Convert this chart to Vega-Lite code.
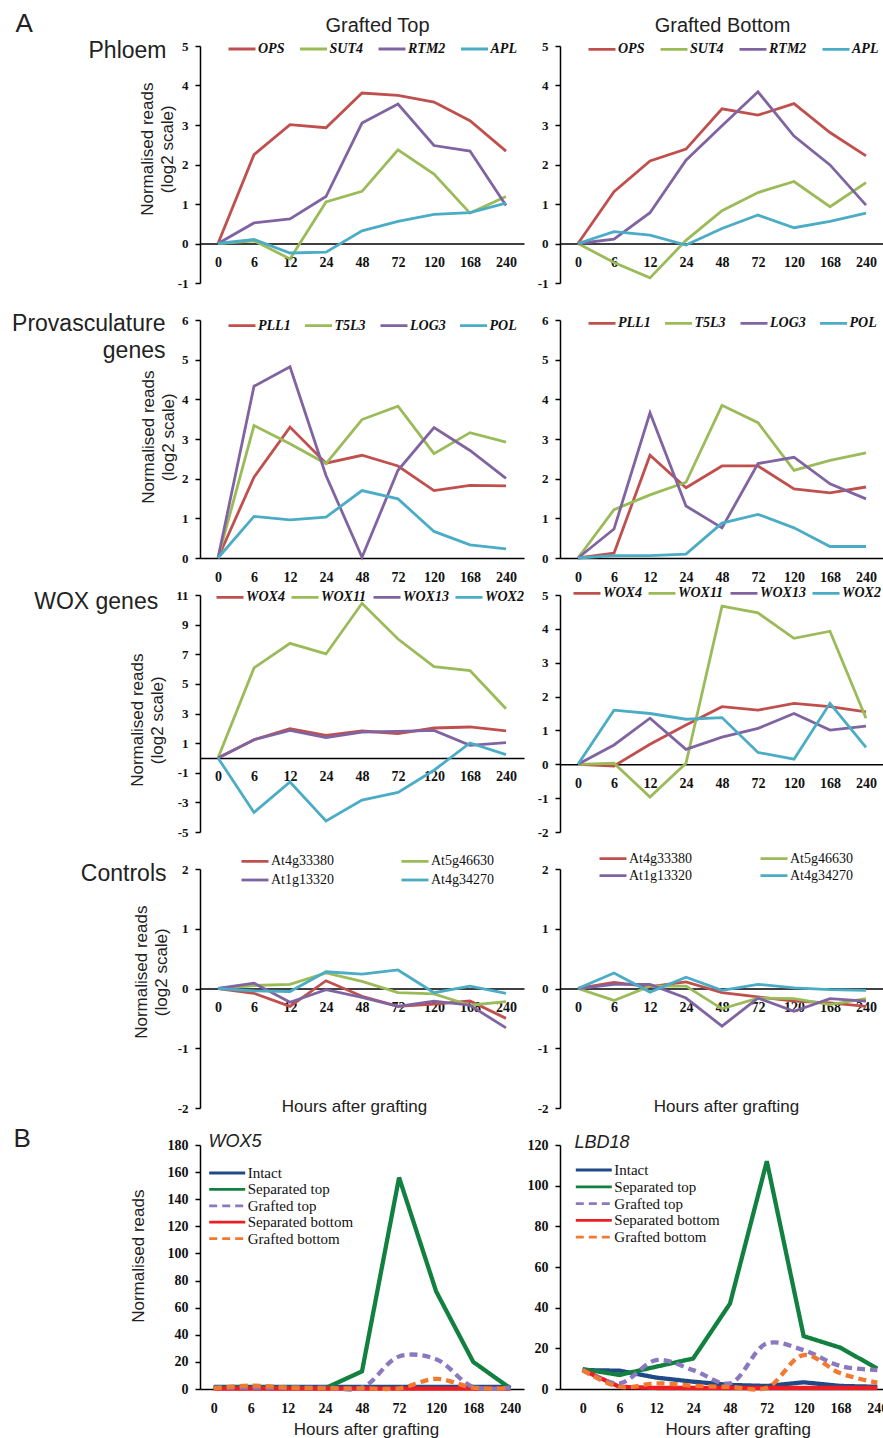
{
"$schema":"https://vega.github.io/schema/vega-lite/v6.json",
"background":"white",
"padding":{"left":11,"top":10,"right":0,"bottom":0},
"config":{
 "view":{"stroke":null},
 "axis":{"grid":false,"domainColor":"#000","domainWidth":1.5,"tickColor":"#000","tickWidth":1.5,"labelColor":"#111","labelFont":"Liberation Serif","labelFontWeight":"bold","titleFont":"Liberation Sans","titleFontWeight":"normal","titleColor":"#222","titleFontSize":17,"titleLineHeight":20,"titleAlign":"center","titleBaseline":"middle"},
 "axisX":{"ticks":false,"labelAngle":0,"labelFontSize":14,"labelPadding":12},
 "axisY":{"tickSize":5,"labelFontSize":13,"labelPadding":7,"labelExpr":"'' + datum.value"},
 "legend":{"padding":0,"labelColor":"#111","labelLimit":400,"symbolType":"stroke","labelOffset":1,"orient":"none"},
 "line":{"strokeWidth":2.8}
},
"datasets":{
"p1L":[
{"g":"OPS","h":0,"v":0},{"g":"OPS","h":6,"v":2.25},{"g":"OPS","h":12,"v":3.01},{"g":"OPS","h":24,"v":2.93},{"g":"OPS","h":48,"v":3.81},{"g":"OPS","h":72,"v":3.75},{"g":"OPS","h":120,"v":3.58},{"g":"OPS","h":168,"v":3.11},{"g":"OPS","h":240,"v":2.34},
{"g":"SUT4","h":0,"v":0},{"g":"SUT4","h":6,"v":0.07},{"g":"SUT4","h":12,"v":-0.39},{"g":"SUT4","h":24,"v":1.05},{"g":"SUT4","h":48,"v":1.32},{"g":"SUT4","h":72,"v":2.37},{"g":"SUT4","h":120,"v":1.76},{"g":"SUT4","h":168,"v":0.77},{"g":"SUT4","h":240,"v":1.19},
{"g":"RTM2","h":0,"v":0},{"g":"RTM2","h":6,"v":0.52},{"g":"RTM2","h":12,"v":0.62},{"g":"RTM2","h":24,"v":1.19},{"g":"RTM2","h":48,"v":3.05},{"g":"RTM2","h":72,"v":3.53},{"g":"RTM2","h":120,"v":2.48},{"g":"RTM2","h":168,"v":2.34},{"g":"RTM2","h":240,"v":0.96},
{"g":"APL","h":0,"v":0},{"g":"APL","h":6,"v":0.10},{"g":"APL","h":12,"v":-0.24},{"g":"APL","h":24,"v":-0.22},{"g":"APL","h":48,"v":0.32},{"g":"APL","h":72,"v":0.56},{"g":"APL","h":120,"v":0.74},{"g":"APL","h":168,"v":0.78},{"g":"APL","h":240,"v":1.02}],
"p1R":[
{"g":"OPS","h":0,"v":0},{"g":"OPS","h":6,"v":1.31},{"g":"OPS","h":12,"v":2.09},{"g":"OPS","h":24,"v":2.39},{"g":"OPS","h":48,"v":3.41},{"g":"OPS","h":72,"v":3.25},{"g":"OPS","h":120,"v":3.54},{"g":"OPS","h":168,"v":2.81},{"g":"OPS","h":240,"v":2.22},
{"g":"SUT4","h":0,"v":0},{"g":"SUT4","h":6,"v":-0.48},{"g":"SUT4","h":12,"v":-0.87},{"g":"SUT4","h":24,"v":0.08},{"g":"SUT4","h":48,"v":0.83},{"g":"SUT4","h":72,"v":1.29},{"g":"SUT4","h":120,"v":1.57},{"g":"SUT4","h":168,"v":0.93},{"g":"SUT4","h":240,"v":1.54},
{"g":"RTM2","h":0,"v":0},{"g":"RTM2","h":6,"v":0.11},{"g":"RTM2","h":12,"v":0.78},{"g":"RTM2","h":24,"v":2.11},{"g":"RTM2","h":48,"v":2.98},{"g":"RTM2","h":72,"v":3.84},{"g":"RTM2","h":120,"v":2.72},{"g":"RTM2","h":168,"v":1.99},{"g":"RTM2","h":240,"v":0.97},
{"g":"APL","h":0,"v":0},{"g":"APL","h":6,"v":0.30},{"g":"APL","h":12,"v":0.21},{"g":"APL","h":24,"v":-0.04},{"g":"APL","h":48,"v":0.38},{"g":"APL","h":72,"v":0.72},{"g":"APL","h":120,"v":0.40},{"g":"APL","h":168,"v":0.56},{"g":"APL","h":240,"v":0.77}],
"p2L":[
{"g":"PLL1","h":0,"v":0},{"g":"PLL1","h":6,"v":2.04},{"g":"PLL1","h":12,"v":3.30},{"g":"PLL1","h":24,"v":2.39},{"g":"PLL1","h":48,"v":2.59},{"g":"PLL1","h":72,"v":2.32},{"g":"PLL1","h":120,"v":1.70},{"g":"PLL1","h":168,"v":1.83},{"g":"PLL1","h":240,"v":1.82},
{"g":"T5L3","h":0,"v":0},{"g":"T5L3","h":6,"v":3.34},{"g":"T5L3","h":12,"v":2.88},{"g":"T5L3","h":24,"v":2.38},{"g":"T5L3","h":48,"v":3.49},{"g":"T5L3","h":72,"v":3.83},{"g":"T5L3","h":120,"v":2.63},{"g":"T5L3","h":168,"v":3.16},{"g":"T5L3","h":240,"v":2.92},
{"g":"LOG3","h":0,"v":0},{"g":"LOG3","h":6,"v":4.33},{"g":"LOG3","h":12,"v":4.82},{"g":"LOG3","h":24,"v":2.08},{"g":"LOG3","h":48,"v":0.02},{"g":"LOG3","h":72,"v":2.21},{"g":"LOG3","h":120,"v":3.29},{"g":"LOG3","h":168,"v":2.71},{"g":"LOG3","h":240,"v":2.01},
{"g":"POL","h":0,"v":0},{"g":"POL","h":6,"v":1.05},{"g":"POL","h":12,"v":0.96},{"g":"POL","h":24,"v":1.03},{"g":"POL","h":48,"v":1.70},{"g":"POL","h":72,"v":1.49},{"g":"POL","h":120,"v":0.67},{"g":"POL","h":168,"v":0.33},{"g":"POL","h":240,"v":0.23}],
"p2R":[
{"g":"PLL1","h":0,"v":0},{"g":"PLL1","h":6,"v":0.12},{"g":"PLL1","h":12,"v":2.59},{"g":"PLL1","h":24,"v":1.77},{"g":"PLL1","h":48,"v":2.32},{"g":"PLL1","h":72,"v":2.32},{"g":"PLL1","h":120,"v":1.74},{"g":"PLL1","h":168,"v":1.64},{"g":"PLL1","h":240,"v":1.79},
{"g":"T5L3","h":0,"v":0},{"g":"T5L3","h":6,"v":1.22},{"g":"T5L3","h":12,"v":1.59},{"g":"T5L3","h":24,"v":1.91},{"g":"T5L3","h":48,"v":3.85},{"g":"T5L3","h":72,"v":3.41},{"g":"T5L3","h":120,"v":2.21},{"g":"T5L3","h":168,"v":2.46},{"g":"T5L3","h":240,"v":2.65},
{"g":"LOG3","h":0,"v":0},{"g":"LOG3","h":6,"v":0.73},{"g":"LOG3","h":12,"v":3.66},{"g":"LOG3","h":24,"v":1.31},{"g":"LOG3","h":48,"v":0.76},{"g":"LOG3","h":72,"v":2.38},{"g":"LOG3","h":120,"v":2.54},{"g":"LOG3","h":168,"v":1.87},{"g":"LOG3","h":240,"v":1.49},
{"g":"POL","h":0,"v":0},{"g":"POL","h":6,"v":0.06},{"g":"POL","h":12,"v":0.06},{"g":"POL","h":24,"v":0.10},{"g":"POL","h":48,"v":0.88},{"g":"POL","h":72,"v":1.10},{"g":"POL","h":120,"v":0.76},{"g":"POL","h":168,"v":0.29},{"g":"POL","h":240,"v":0.29}],
"p3L":[
{"g":"WOX4","h":0,"v":0},{"g":"WOX4","h":6,"v":1.23},{"g":"WOX4","h":12,"v":1.97},{"g":"WOX4","h":24,"v":1.53},{"g":"WOX4","h":48,"v":1.82},{"g":"WOX4","h":72,"v":1.64},{"g":"WOX4","h":120,"v":2.02},{"g":"WOX4","h":168,"v":2.09},{"g":"WOX4","h":240,"v":1.82},
{"g":"WOX11","h":0,"v":0},{"g":"WOX11","h":6,"v":6.08},{"g":"WOX11","h":12,"v":7.74},{"g":"WOX11","h":24,"v":7.02},{"g":"WOX11","h":48,"v":10.44},{"g":"WOX11","h":72,"v":8.03},{"g":"WOX11","h":120,"v":6.17},{"g":"WOX11","h":168,"v":5.90},{"g":"WOX11","h":240,"v":3.32},
{"g":"WOX13","h":0,"v":0},{"g":"WOX13","h":6,"v":1.23},{"g":"WOX13","h":12,"v":1.86},{"g":"WOX13","h":24,"v":1.37},{"g":"WOX13","h":48,"v":1.75},{"g":"WOX13","h":72,"v":1.80},{"g":"WOX13","h":120,"v":1.86},{"g":"WOX13","h":168,"v":0.85},{"g":"WOX13","h":240,"v":1.03},
{"g":"WOX2","h":0,"v":0},{"g":"WOX2","h":6,"v":-3.68},{"g":"WOX2","h":12,"v":-1.62},{"g":"WOX2","h":24,"v":-4.26},{"g":"WOX2","h":48,"v":-2.85},{"g":"WOX2","h":72,"v":-2.33},{"g":"WOX2","h":120,"v":-0.83},{"g":"WOX2","h":168,"v":1.01},{"g":"WOX2","h":240,"v":0.22}],
"p3R":[
{"g":"WOX4","h":0,"v":0},{"g":"WOX4","h":6,"v":-0.05},{"g":"WOX4","h":12,"v":0.59},{"g":"WOX4","h":24,"v":1.16},{"g":"WOX4","h":48,"v":1.70},{"g":"WOX4","h":72,"v":1.60},{"g":"WOX4","h":120,"v":1.80},{"g":"WOX4","h":168,"v":1.70},{"g":"WOX4","h":240,"v":1.55},
{"g":"WOX11","h":0,"v":0},{"g":"WOX11","h":6,"v":0.03},{"g":"WOX11","h":12,"v":-0.97},{"g":"WOX11","h":24,"v":0.03},{"g":"WOX11","h":48,"v":4.67},{"g":"WOX11","h":72,"v":4.47},{"g":"WOX11","h":120,"v":3.72},{"g":"WOX11","h":168,"v":3.93},{"g":"WOX11","h":240,"v":1.36},
{"g":"WOX13","h":0,"v":0},{"g":"WOX13","h":6,"v":0.57},{"g":"WOX13","h":12,"v":1.36},{"g":"WOX13","h":24,"v":0.44},{"g":"WOX13","h":48,"v":0.80},{"g":"WOX13","h":72,"v":1.06},{"g":"WOX13","h":120,"v":1.50},{"g":"WOX13","h":168,"v":1.01},{"g":"WOX13","h":240,"v":1.13},
{"g":"WOX2","h":0,"v":0},{"g":"WOX2","h":6,"v":1.60},{"g":"WOX2","h":12,"v":1.50},{"g":"WOX2","h":24,"v":1.33},{"g":"WOX2","h":48,"v":1.38},{"g":"WOX2","h":72,"v":0.35},{"g":"WOX2","h":120,"v":0.15},{"g":"WOX2","h":168,"v":1.80},{"g":"WOX2","h":240,"v":0.50}],
"p4L":[
{"g":"At4g33380","h":0,"v":0},{"g":"At4g33380","h":6,"v":-0.08},{"g":"At4g33380","h":12,"v":-0.30},{"g":"At4g33380","h":24,"v":0.13},{"g":"At4g33380","h":48,"v":-0.13},{"g":"At4g33380","h":72,"v":-0.30},{"g":"At4g33380","h":120,"v":-0.26},{"g":"At4g33380","h":168,"v":-0.21},{"g":"At4g33380","h":240,"v":-0.50},
{"g":"At5g46630","h":0,"v":0},{"g":"At5g46630","h":6,"v":0.05},{"g":"At5g46630","h":12,"v":0.07},{"g":"At5g46630","h":24,"v":0.26},{"g":"At5g46630","h":48,"v":0.12},{"g":"At5g46630","h":72,"v":-0.07},{"g":"At5g46630","h":120,"v":-0.09},{"g":"At5g46630","h":168,"v":-0.28},{"g":"At5g46630","h":240,"v":-0.22},
{"g":"At1g13320","h":0,"v":0},{"g":"At1g13320","h":6,"v":0.09},{"g":"At1g13320","h":12,"v":-0.23},{"g":"At1g13320","h":24,"v":-0.02},{"g":"At1g13320","h":48,"v":-0.15},{"g":"At1g13320","h":72,"v":-0.30},{"g":"At1g13320","h":120,"v":-0.21},{"g":"At1g13320","h":168,"v":-0.28},{"g":"At1g13320","h":240,"v":-0.66},
{"g":"At4g34270","h":0,"v":0},{"g":"At4g34270","h":6,"v":-0.04},{"g":"At4g34270","h":12,"v":-0.05},{"g":"At4g34270","h":24,"v":0.28},{"g":"At4g34270","h":48,"v":0.24},{"g":"At4g34270","h":72,"v":0.31},{"g":"At4g34270","h":120,"v":-0.07},{"g":"At4g34270","h":168,"v":0.04},{"g":"At4g34270","h":240,"v":-0.08}],
"p4R":[
{"g":"At4g33380","h":0,"v":0},{"g":"At4g33380","h":6,"v":0.10},{"g":"At4g33380","h":12,"v":0.03},{"g":"At4g33380","h":24,"v":0.11},{"g":"At4g33380","h":48,"v":-0.07},{"g":"At4g33380","h":72,"v":-0.14},{"g":"At4g33380","h":120,"v":-0.21},{"g":"At4g33380","h":168,"v":-0.24},{"g":"At4g33380","h":240,"v":-0.30},
{"g":"At5g46630","h":0,"v":0},{"g":"At5g46630","h":6,"v":-0.20},{"g":"At5g46630","h":12,"v":0.04},{"g":"At5g46630","h":24,"v":0.04},{"g":"At5g46630","h":48,"v":-0.34},{"g":"At5g46630","h":72,"v":-0.16},{"g":"At5g46630","h":120,"v":-0.17},{"g":"At5g46630","h":168,"v":-0.27},{"g":"At5g46630","h":240,"v":-0.17},
{"g":"At1g13320","h":0,"v":0},{"g":"At1g13320","h":6,"v":0.07},{"g":"At1g13320","h":12,"v":0.07},{"g":"At1g13320","h":24,"v":-0.16},{"g":"At1g13320","h":48,"v":-0.63},{"g":"At1g13320","h":72,"v":-0.16},{"g":"At1g13320","h":120,"v":-0.38},{"g":"At1g13320","h":168,"v":-0.17},{"g":"At1g13320","h":240,"v":-0.21},
{"g":"At4g34270","h":0,"v":0},{"g":"At4g34270","h":6,"v":0.26},{"g":"At4g34270","h":12,"v":-0.06},{"g":"At4g34270","h":24,"v":0.19},{"g":"At4g34270","h":48,"v":-0.03},{"g":"At4g34270","h":72,"v":0.07},{"g":"At4g34270","h":120,"v":0.01},{"g":"At4g34270","h":168,"v":-0.02},{"g":"At4g34270","h":240,"v":-0.03}],
"pBL":[
{"g":"Intact","h":0,"v":1.5},{"g":"Intact","h":6,"v":1.5},{"g":"Intact","h":12,"v":1.5},{"g":"Intact","h":24,"v":1.5},{"g":"Intact","h":48,"v":1.5},{"g":"Intact","h":72,"v":1.5},{"g":"Intact","h":120,"v":1.5},{"g":"Intact","h":168,"v":1.5},{"g":"Intact","h":240,"v":1.5},
{"g":"Separated top","h":0,"v":1},{"g":"Separated top","h":6,"v":1},{"g":"Separated top","h":12,"v":1},{"g":"Separated top","h":24,"v":0.5},{"g":"Separated top","h":48,"v":13},{"g":"Separated top","h":72,"v":156},{"g":"Separated top","h":120,"v":72},{"g":"Separated top","h":168,"v":20},{"g":"Separated top","h":240,"v":0.5},
{"g":"Grafted top","h":0,"v":1},{"g":"Grafted top","h":6,"v":1},{"g":"Grafted top","h":12,"v":1},{"g":"Grafted top","h":24,"v":1},{"g":"Grafted top","h":48,"v":1},{"g":"Grafted top","h":72,"v":24},{"g":"Grafted top","h":120,"v":22},{"g":"Grafted top","h":168,"v":1.5},{"g":"Grafted top","h":240,"v":1},
{"g":"Separated bottom","h":0,"v":0.3},{"g":"Separated bottom","h":6,"v":0.3},{"g":"Separated bottom","h":12,"v":0.3},{"g":"Separated bottom","h":24,"v":0.3},{"g":"Separated bottom","h":48,"v":0.3},{"g":"Separated bottom","h":72,"v":0.3},{"g":"Separated bottom","h":120,"v":0.3},{"g":"Separated bottom","h":168,"v":0.3},{"g":"Separated bottom","h":240,"v":0.3},
{"g":"Grafted bottom","h":0,"v":0.5},{"g":"Grafted bottom","h":6,"v":2.5},{"g":"Grafted bottom","h":12,"v":1},{"g":"Grafted bottom","h":24,"v":0.5},{"g":"Grafted bottom","h":48,"v":0.5},{"g":"Grafted bottom","h":72,"v":0.5},{"g":"Grafted bottom","h":120,"v":7.5},{"g":"Grafted bottom","h":168,"v":1},{"g":"Grafted bottom","h":240,"v":0.5}],
"pBR":[
{"g":"Intact","h":0,"v":9.3},{"g":"Intact","h":6,"v":9.0},{"g":"Intact","h":12,"v":5.6},{"g":"Intact","h":24,"v":3.6},{"g":"Intact","h":48,"v":2.0},{"g":"Intact","h":72,"v":1.5},{"g":"Intact","h":120,"v":3.3},{"g":"Intact","h":168,"v":1.5},{"g":"Intact","h":240,"v":1.1},
{"g":"Separated top","h":0,"v":9.8},{"g":"Separated top","h":6,"v":6.9},{"g":"Separated top","h":12,"v":11},{"g":"Separated top","h":24,"v":15},{"g":"Separated top","h":48,"v":42},{"g":"Separated top","h":72,"v":112},{"g":"Separated top","h":120,"v":26},{"g":"Separated top","h":168,"v":20.3},{"g":"Separated top","h":240,"v":10},
{"g":"Grafted top","h":0,"v":9.3},{"g":"Grafted top","h":6,"v":2.8},{"g":"Grafted top","h":12,"v":14.2},{"g":"Grafted top","h":24,"v":9.3},{"g":"Grafted top","h":48,"v":2.8},{"g":"Grafted top","h":72,"v":22.4},{"g":"Grafted top","h":120,"v":19.1},{"g":"Grafted top","h":168,"v":11.3},{"g":"Grafted top","h":240,"v":9.3},
{"g":"Separated bottom","h":0,"v":9.3},{"g":"Separated bottom","h":6,"v":1.1},{"g":"Separated bottom","h":12,"v":0.5},{"g":"Separated bottom","h":24,"v":0.5},{"g":"Separated bottom","h":48,"v":0.5},{"g":"Separated bottom","h":72,"v":0.5},{"g":"Separated bottom","h":120,"v":0.5},{"g":"Separated bottom","h":168,"v":0.5},{"g":"Separated bottom","h":240,"v":0.5},
{"g":"Grafted bottom","h":0,"v":9.3},{"g":"Grafted bottom","h":6,"v":1},{"g":"Grafted bottom","h":12,"v":2.8},{"g":"Grafted bottom","h":24,"v":1.6},{"g":"Grafted bottom","h":48,"v":1},{"g":"Grafted bottom","h":72,"v":0.6},{"g":"Grafted bottom","h":120,"v":16.7},{"g":"Grafted bottom","h":168,"v":7.7},{"g":"Grafted bottom","h":240,"v":3.1}]
},
"columns":2,"spacing":{"row":37,"column":36},"bounds":"flush","align":"none",
"resolve":{"scale":{"color":"independent","strokeDash":"independent"}},
"concat":[
 {"width":324,"height":237,"data":{"name":"p1L"},
  "resolve":{"axis":{"x":"independent","y":"independent"}},
  "layer":[
   {"mark":{"type":"line"},
    "encoding":{
     "x":{"field":"h","type":"ordinal","sort":[0,6,12,24,48,72,120,168,240],"scale":{"padding":0.5},"axis":{"title":null,"offset":-39.5}},
     "y":{"field":"v","type":"quantitative","scale":{"domain":[-1,5],"nice":false,"zero":false},"axis":{"values":[-1,0,1,2,3,4,5],"title":["Normalised reads","(log2 scale)"],"titleX":-52.3,"titleY":102.7}},
     "color":{"field":"g","type":"nominal","scale":{"domain":["OPS","SUT4","RTM2","APL"],"range":["#C0504D","#9BBB59","#8064A2","#4BACC6"]},
      "legend":{"title":null,"orient":"none","legendX":27,"legendY":-5,"direction":"horizontal","columns":4,"columnPadding":13.5,"symbolSize":729,"symbolStrokeWidth":3,"clipHeight":16,"labelFont":"Liberation Serif","labelFontStyle":"italic","labelFontWeight":"bold","labelFontSize":14}}}},
   {"mark":{"type":"point","opacity":0},
    "encoding":{
     "x":{"field":"h","type":"ordinal","sort":[0,6,12,24,48,72,120,168,240],"axis":{"orient":"top","title":"Phloem","labels":false,"ticks":false,"domain":false,"titleX":-34,"titleY":4.7,"titleAlign":"right","titleBaseline":"middle","titleAngle":0,"titleFontSize":23}},
     "y":{"field":"v","type":"quantitative","axis":{"orient":"right","title":"Grafted Top","labels":false,"ticks":false,"domain":false,"titleX":-147,"titleY":-20.3,"titleAlign":"center","titleBaseline":"middle","titleAngle":0,"titleFontSize":20}}}}
  ]},
 {"width":324,"height":237,"data":{"name":"p1R"},
  "resolve":{"axis":{"x":"independent","y":"independent"}},
  "layer":[
   {"mark":{"type":"line"},
    "encoding":{
     "x":{"field":"h","type":"ordinal","sort":[0,6,12,24,48,72,120,168,240],"scale":{"padding":0.5},"axis":{"title":null,"offset":-39.5}},
     "y":{"field":"v","type":"quantitative","scale":{"domain":[-1,5],"nice":false,"zero":false},"axis":{"values":[-1,0,1,2,3,4,5],"title":null}},
     "color":{"field":"g","type":"nominal","scale":{"domain":["OPS","SUT4","RTM2","APL"],"range":["#C0504D","#9BBB59","#8064A2","#4BACC6"]},
      "legend":{"title":null,"orient":"none","legendX":27,"legendY":-4.6,"direction":"horizontal","columns":4,"columnPadding":14,"symbolSize":729,"symbolStrokeWidth":3,"clipHeight":16,"labelFont":"Liberation Serif","labelFontStyle":"italic","labelFontWeight":"bold","labelFontSize":14}}}},
   {"mark":{"type":"point","opacity":0},
    "encoding":{
     "x":{"field":"h","type":"ordinal","sort":[0,6,12,24,48,72,120,168,240],"axis":{"orient":"top","title":"Grafted Bottom","labels":false,"ticks":false,"domain":false,"titleX":162,"titleY":-20.3,"titleAlign":"center","titleBaseline":"middle","titleAngle":0,"titleFontSize":20}},
     "y":{"field":"v","type":"quantitative","axis":{"orient":"right","title":"A","labels":false,"ticks":false,"domain":false,"titleX":-869,"titleY":-22.3,"titleAlign":"left","titleBaseline":"middle","titleAngle":0,"titleFontSize":26}}}}
  ]},
 {"width":324,"height":238,"data":{"name":"p2L"},
  "resolve":{"axis":{"x":"independent"}},
  "layer":[
   {"mark":{"type":"line"},
    "encoding":{
     "x":{"field":"h","type":"ordinal","sort":[0,6,12,24,48,72,120,168,240],"scale":{"padding":0.5},"axis":{"title":null,"offset":0}},
     "y":{"field":"v","type":"quantitative","scale":{"domain":[0,6],"nice":false,"zero":false},"axis":{"values":[0,1,2,3,4,5,6],"title":["Normalised reads","(log2 scale)"],"titleX":-52,"titleY":116.7}},
     "color":{"field":"g","type":"nominal","scale":{"domain":["PLL1","T5L3","LOG3","POL"],"range":["#C0504D","#9BBB59","#8064A2","#4BACC6"]},
      "legend":{"title":null,"orient":"none","legendX":27,"legendY":-2.3,"direction":"horizontal","columns":4,"columnPadding":12.5,"symbolSize":729,"symbolStrokeWidth":3,"clipHeight":16,"labelFont":"Liberation Serif","labelFontStyle":"italic","labelFontWeight":"bold","labelFontSize":14}}}},
   {"mark":{"type":"point","opacity":0},
    "encoding":{"x":{"field":"h","type":"ordinal","sort":[0,6,12,24,48,72,120,168,240],"axis":{"orient":"top","title":["Provasculature","genes"],"labels":false,"ticks":false,"domain":false,"titleX":-35,"titleY":3.4,"titleAlign":"right","titleBaseline":"middle","titleAngle":0,"titleFontSize":23,"titleLineHeight":27}}}}
  ]},
 {"width":324,"height":238,"data":{"name":"p2R"},
  "mark":{"type":"line"},
  "encoding":{
   "x":{"field":"h","type":"ordinal","sort":[0,6,12,24,48,72,120,168,240],"scale":{"padding":0.5},"axis":{"title":null,"offset":0}},
   "y":{"field":"v","type":"quantitative","scale":{"domain":[0,6],"nice":false,"zero":false},"axis":{"values":[0,1,2,3,4,5,6],"title":null}},
   "color":{"field":"g","type":"nominal","scale":{"domain":["PLL1","T5L3","LOG3","POL"],"range":["#C0504D","#9BBB59","#8064A2","#4BACC6"]},
    "legend":{"title":null,"orient":"none","legendX":27,"legendY":-4.6,"direction":"horizontal","columns":4,"columnPadding":12.5,"symbolSize":729,"symbolStrokeWidth":3,"clipHeight":16,"labelFont":"Liberation Serif","labelFontStyle":"italic","labelFontWeight":"bold","labelFontSize":14}}}},
 {"width":324,"height":237,"data":{"name":"p3L"},
  "resolve":{"axis":{"x":"independent"}},
  "layer":[
   {"mark":{"type":"line"},
    "encoding":{
     "x":{"field":"h","type":"ordinal","sort":[0,6,12,24,48,72,120,168,240],"scale":{"padding":0.5},"axis":{"title":null,"offset":-74.06}},
     "y":{"field":"v","type":"quantitative","scale":{"domain":[-5,11],"nice":false,"zero":false},"axis":{"values":[-5,-3,-1,1,3,5,7,9,11],"title":["Normalised reads","(log2 scale)"],"titleX":-62.3,"titleY":124.7}},
     "color":{"field":"g","type":"nominal","scale":{"domain":["WOX4","WOX11","WOX13","WOX2"],"range":["#C0504D","#9BBB59","#8064A2","#4BACC6"]},
      "legend":{"title":null,"orient":"none","legendX":15,"legendY":-5.6,"direction":"horizontal","columns":4,"columnPadding":5,"symbolSize":729,"symbolStrokeWidth":3,"clipHeight":16,"labelFont":"Liberation Serif","labelFontStyle":"italic","labelFontWeight":"bold","labelFontSize":14}}}},
   {"mark":{"type":"point","opacity":0},
    "encoding":{"x":{"field":"h","type":"ordinal","sort":[0,6,12,24,48,72,120,168,240],"axis":{"orient":"top","title":"WOX genes","labels":false,"ticks":false,"domain":false,"titleX":-42.3,"titleY":6.4,"titleAlign":"right","titleBaseline":"middle","titleAngle":0,"titleFontSize":23}}}}
  ]},
 {"width":324,"height":237,"data":{"name":"p3R"},
  "mark":{"type":"line"},
  "encoding":{
   "x":{"field":"h","type":"ordinal","sort":[0,6,12,24,48,72,120,168,240],"scale":{"padding":0.5},"axis":{"title":null,"offset":-67.71}},
   "y":{"field":"v","type":"quantitative","scale":{"domain":[-2,5],"nice":false,"zero":false},"axis":{"values":[-2,-1,0,1,2,3,4,5],"title":null}},
   "color":{"field":"g","type":"nominal","scale":{"domain":["WOX4","WOX11","WOX13","WOX2"],"range":["#C0504D","#9BBB59","#8064A2","#4BACC6"]},
    "legend":{"title":null,"orient":"none","legendX":12,"legendY":-9.6,"direction":"horizontal","columns":4,"columnPadding":5,"symbolSize":729,"symbolStrokeWidth":3,"clipHeight":16,"labelFont":"Liberation Serif","labelFontStyle":"italic","labelFontWeight":"bold","labelFontSize":14}}}},
 {"width":324,"height":239,"data":{"name":"p4L"},
  "resolve":{"axis":{"x":"independent"}},
  "layer":[
   {"mark":{"type":"line"},
    "encoding":{
     "x":{"field":"h","type":"ordinal","sort":[0,6,12,24,48,72,120,168,240],"scale":{"padding":0.5},"axis":{"title":"Hours after grafting","offset":-119.5,"titleX":154,"titleY":117.9}},
     "y":{"field":"v","type":"quantitative","scale":{"domain":[-2,2],"nice":false,"zero":false},"axis":{"values":[-2,-1,0,1,2],"title":["Normalised reads","(log2 scale)"],"titleX":-59,"titleY":102.7}},
     "color":{"field":"g","type":"nominal","scale":{"domain":["At4g33380","At5g46630","At1g13320","At4g34270"],"range":["#C0504D","#9BBB59","#8064A2","#4BACC6"]},
      "legend":{"title":null,"orient":"none","legendX":40,"legendY":-15.6,"direction":"horizontal","columns":2,"columnPadding":66,"rowPadding":2.6,"symbolSize":729,"symbolStrokeWidth":3,"clipHeight":16,"labelFont":"Liberation Serif","labelFontWeight":"normal","labelFontSize":14}}}},
   {"mark":{"type":"point","opacity":0},
    "encoding":{"x":{"field":"h","type":"ordinal","sort":[0,6,12,24,48,72,120,168,240],"axis":{"orient":"top","title":"Controls","labels":false,"ticks":false,"domain":false,"titleX":-34,"titleY":4.4,"titleAlign":"right","titleBaseline":"middle","titleAngle":0,"titleFontSize":23}}}}
  ]},
 {"width":324,"height":239,"data":{"name":"p4R"},
  "mark":{"type":"line"},
  "encoding":{
   "x":{"field":"h","type":"ordinal","sort":[0,6,12,24,48,72,120,168,240],"scale":{"padding":0.5},"axis":{"title":"Hours after grafting","offset":-119.5,"titleX":166,"titleY":117.9}},
   "y":{"field":"v","type":"quantitative","scale":{"domain":[-2,2],"nice":false,"zero":false},"axis":{"values":[-2,-1,0,1,2],"title":null}},
   "color":{"field":"g","type":"nominal","scale":{"domain":["At4g33380","At5g46630","At1g13320","At4g34270"],"range":["#C0504D","#9BBB59","#8064A2","#4BACC6"]},
    "legend":{"title":null,"orient":"none","legendX":38,"legendY":-18.3,"direction":"horizontal","columns":2,"columnPadding":67,"rowPadding":1,"symbolSize":729,"symbolStrokeWidth":3,"clipHeight":16,"labelFont":"Liberation Serif","labelFontWeight":"normal","labelFontSize":14}}}},
 {"width":324,"height":244,"data":{"name":"pBL"},
  "resolve":{"axis":{"x":"independent","y":"independent"}},
  "layer":[
   {"transform":[{"filter":{"field":"g","oneOf":["Intact","Separated top","Separated bottom"]}}],
    "mark":{"type":"line","strokeWidth":4.3},
    "encoding":{
     "x":{"field":"h","type":"ordinal","sort":[0,6,12,24,48,72,120,168,240],"scale":{"padding":0.37},"axis":{"title":"Hours after grafting","offset":0,"titleX":166,"titleY":40.7}},
     "y":{"field":"v","type":"quantitative","scale":{"domain":[0,180],"nice":false,"zero":false},"axis":{"values":[0,20,40,60,80,100,120,140,160,180],"labelFontSize":14,"title":"Normalised reads","titleX":-62,"titleY":110.7}},
     "color":{"field":"g","type":"nominal","scale":{"domain":["Intact","Separated top","Grafted top","Separated bottom","Grafted bottom"],"range":["#1F4A86","#12803F","#8B79C0","#EE1D23","#F27A30"]},
      "legend":{"title":null,"orient":"none","legendX":7.7,"legendY":20.5,"direction":"vertical","symbolSize":1296,"symbolStrokeWidth":4.5,"clipHeight":15,"rowPadding":0.4,"labelFont":"Liberation Serif","labelFontWeight":"normal","labelFontSize":15}},
     "strokeDash":{"field":"g","type":"nominal","scale":{"domain":["Intact","Separated top","Grafted top","Separated bottom","Grafted bottom"],"range":[[1,0],[1,0],[8,5],[1,0],[8,5]]},
      "legend":{"title":null,"orient":"none","legendX":7.7,"legendY":20.5,"direction":"vertical","symbolSize":1296,"symbolStrokeWidth":4.5,"clipHeight":15,"rowPadding":0.4,"labelFont":"Liberation Serif","labelFontWeight":"normal","labelFontSize":15}}}},
   {"transform":[{"filter":{"field":"g","oneOf":["Grafted top","Grafted bottom"]}}],
    "mark":{"type":"line","strokeWidth":4.3,"interpolate":"catmull-rom"},
    "encoding":{
     "x":{"field":"h","type":"ordinal","sort":[0,6,12,24,48,72,120,168,240],"axis":null},
     "y":{"field":"v","type":"quantitative","axis":null},
     "color":{"field":"g","type":"nominal","scale":{"domain":["Intact","Separated top","Grafted top","Separated bottom","Grafted bottom"],"range":["#1F4A86","#12803F","#8B79C0","#EE1D23","#F27A30"]},
      "legend":{"title":null,"orient":"none","legendX":7.7,"legendY":20.5,"direction":"vertical","symbolSize":1296,"symbolStrokeWidth":4.5,"clipHeight":15,"rowPadding":0.4,"labelFont":"Liberation Serif","labelFontWeight":"normal","labelFontSize":15}},
     "strokeDash":{"field":"g","type":"nominal","scale":{"domain":["Intact","Separated top","Grafted top","Separated bottom","Grafted bottom"],"range":[[1,0],[1,0],[8,5],[1,0],[8,5]]},
      "legend":{"title":null,"orient":"none","legendX":7.7,"legendY":20.5,"direction":"vertical","symbolSize":1296,"symbolStrokeWidth":4.5,"clipHeight":15,"rowPadding":0.4,"labelFont":"Liberation Serif","labelFontWeight":"normal","labelFontSize":15}}}},
   {"mark":{"type":"point","opacity":0},
    "encoding":{
     "x":{"field":"h","type":"ordinal","sort":[0,6,12,24,48,72,120,168,240],"axis":{"orient":"top","title":"WOX5","labels":false,"ticks":false,"domain":false,"titleX":8,"titleY":-3.6,"titleAlign":"left","titleBaseline":"middle","titleAngle":0,"titleFontSize":18,"titleFontStyle":"italic"}},
     "y":{"field":"v","type":"quantitative","axis":{"orient":"right","title":"B","labels":false,"ticks":false,"domain":false,"titleX":-511,"titleY":-6.3,"titleAlign":"left","titleBaseline":"middle","titleAngle":0,"titleFontSize":26}}}}
  ]},
 {"width":340,"height":244,"data":{"name":"pBR"},
  "resolve":{"axis":{"x":"independent","y":"independent"}},
  "layer":[
   {"transform":[{"filter":{"field":"g","oneOf":["Intact","Separated top","Separated bottom"]}}],
    "mark":{"type":"line","strokeWidth":4.3},
    "encoding":{
     "x":{"field":"h","type":"ordinal","sort":[0,6,12,24,48,72,120,168,240],"scale":{"padding":0.616},"axis":{"title":"Hours after grafting","offset":0,"titleX":177.7,"titleY":40.7}},
     "y":{"field":"v","type":"quantitative","scale":{"domain":[0,120],"nice":false,"zero":false},"axis":{"values":[0,20,40,60,80,100,120],"labelFontSize":14,"title":null}},
     "color":{"field":"g","type":"nominal","scale":{"domain":["Intact","Separated top","Grafted top","Separated bottom","Grafted bottom"],"range":["#1F4A86","#12803F","#8B79C0","#EE1D23","#F27A30"]},
      "legend":{"title":null,"orient":"none","legendX":14.3,"legendY":17.5,"direction":"vertical","symbolSize":1296,"symbolStrokeWidth":4.5,"clipHeight":15,"rowPadding":0.8,"labelFont":"Liberation Serif","labelFontWeight":"normal","labelFontSize":15}},
     "strokeDash":{"field":"g","type":"nominal","scale":{"domain":["Intact","Separated top","Grafted top","Separated bottom","Grafted bottom"],"range":[[1,0],[1,0],[8,5],[1,0],[8,5]]},
      "legend":{"title":null,"orient":"none","legendX":14.3,"legendY":17.5,"direction":"vertical","symbolSize":1296,"symbolStrokeWidth":4.5,"clipHeight":15,"rowPadding":0.8,"labelFont":"Liberation Serif","labelFontWeight":"normal","labelFontSize":15}}}},
   {"transform":[{"filter":{"field":"g","oneOf":["Grafted top","Grafted bottom"]}}],
    "mark":{"type":"line","strokeWidth":4.3,"interpolate":"catmull-rom"},
    "encoding":{
     "x":{"field":"h","type":"ordinal","sort":[0,6,12,24,48,72,120,168,240],"axis":null},
     "y":{"field":"v","type":"quantitative","axis":null},
     "color":{"field":"g","type":"nominal","scale":{"domain":["Intact","Separated top","Grafted top","Separated bottom","Grafted bottom"],"range":["#1F4A86","#12803F","#8B79C0","#EE1D23","#F27A30"]},
      "legend":{"title":null,"orient":"none","legendX":14.3,"legendY":17.5,"direction":"vertical","symbolSize":1296,"symbolStrokeWidth":4.5,"clipHeight":15,"rowPadding":0.8,"labelFont":"Liberation Serif","labelFontWeight":"normal","labelFontSize":15}},
     "strokeDash":{"field":"g","type":"nominal","scale":{"domain":["Intact","Separated top","Grafted top","Separated bottom","Grafted bottom"],"range":[[1,0],[1,0],[8,5],[1,0],[8,5]]},
      "legend":{"title":null,"orient":"none","legendX":14.3,"legendY":17.5,"direction":"vertical","symbolSize":1296,"symbolStrokeWidth":4.5,"clipHeight":15,"rowPadding":0.8,"labelFont":"Liberation Serif","labelFontWeight":"normal","labelFontSize":15}}}},
   {"mark":{"type":"point","opacity":0},
    "encoding":{
     "x":{"field":"h","type":"ordinal","sort":[0,6,12,24,48,72,120,168,240],"axis":{"orient":"top","title":"LBD18","labels":false,"ticks":false,"domain":false,"titleX":14,"titleY":-2.6,"titleAlign":"left","titleBaseline":"middle","titleAngle":0,"titleFontSize":18,"titleFontStyle":"italic"}}}}
  ]}
]
}
